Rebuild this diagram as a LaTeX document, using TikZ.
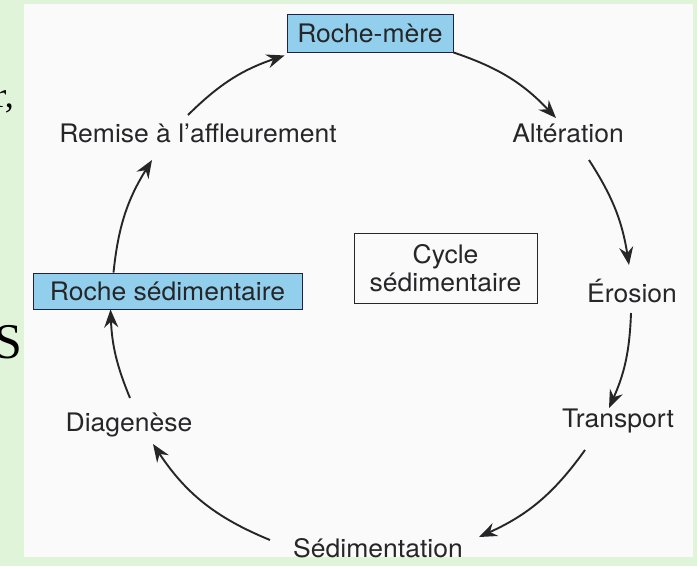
\documentclass[tikz,border=0pt]{standalone}
\usepackage{fontspec}
\setmainfont{TeX Gyre Heros}[FakeStretch=1.04]
\newfontfamily\pageserif{Liberation Serif}
\usepackage{tikz}
\usetikzlibrary{arrows.meta,positioning,calc}
\definecolor{pagegreen}{RGB}{223,244,217}
\definecolor{boxblue}{RGB}{146,207,237}
\definecolor{inkgray}{RGB}{38,38,40}

\begin{document}
\begin{tikzpicture}[
    x=1pt, y=1pt,
    label/.style={inner sep=0pt, text=inkgray, font=\fontsize{25.5}{28}\selectfont},
    rock/.style={label, rectangle, draw=inkgray!85!blue, line width=0.9pt, fill=boxblue},
    cyclebox/.style={label, rectangle, draw=inkgray, line width=0.9pt, align=center},
    flow/.style={-{Stealth[length=18pt, width=14pt, inset=6pt]}, line width=1.9pt, draw=inkgray},
]
    % page and white panel
    \fill[pagegreen] (0,0) rectangle (697,-566);
    \fill[white!98!black] (24,-4) rectangle (693,-557);
    % bits of the page text at the left edge
    \begin{scope}
        \clip (0,0) rectangle (24,-566);
        \node[anchor=base east, inner sep=0pt, font=\pageserif\fontsize{36}{40}\selectfont] (frag1) at (14,-107) {r,};
        \node[anchor=base west, inner sep=0pt, font=\pageserif\fontsize{50}{55}\selectfont] (frag2) at (-6,-358) {S};
    \end{scope}

    \node[rock, minimum width=166pt, minimum height=38pt] (rm) at (370,-33) {Roche-mère};
    \node[label] (alt) at (568,-133) {Altération};
    \node[label] (ero) at (632,-291) {Érosion};
    \node[label] (tra) at (618,-421) {Transport};
    \node[label] (sed) at (378,-548) {Sédimentation};
    \node[label] (dia) at (129,-425) {Diagenèse};
    \node[rock, minimum width=269pt, minimum height=36pt] (rs) at (167.5,-291) {Roche sédimentaire};
    \node[label] (rem) at (198,-133) {Remise à l’affleurement};
    \node[cyclebox, minimum width=183pt, minimum height=70pt] (cyc) at (445.5,-268) {Cycle\\sédimentaire};

    \draw[flow] (rm.south east) to[bend left=14] ([shift={(-12,15)}]alt.center);
    \draw[flow] ([shift={(21,-27)}]alt.center) to[bend left=12] ([shift={(-3,26)}]ero.center);
    \draw[flow] ([shift={(-1,-22)}]ero.center) to[bend left=11] ([shift={(-9,13)}]tra.center);
    \draw[flow] ([shift={(-33,-29)}]tra.center) to[bend left=15] ([shift={(101,11)}]sed.center);
    \draw[flow] ([shift={(-108,8)}]sed.center) to[bend left=17] ([shift={(24,-19)}]dia.center);
    \draw[flow] ([shift={(1,27)}]dia.center) to[bend left=10] ([xshift=-57pt]rs.south);
    \draw[flow] ([xshift=-54pt]rs.north) to[bend left=13] ([shift={(-46,-27)}]rem.center);
    \draw[flow] ([shift={(-10,18)}]rem.center) to[bend left=13] ([shift={(-2,-3)}]rm.south west);
\end{tikzpicture}
\end{document}
